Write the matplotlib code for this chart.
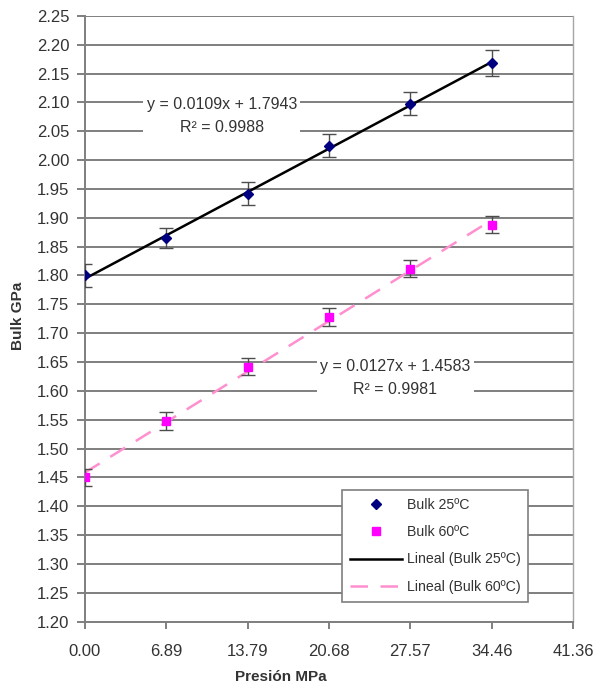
import matplotlib
matplotlib.use("Agg")
import matplotlib.pyplot as plt

plt.rcParams['font.family'] = ['Liberation Sans', 'DejaVu Sans']

presion = [0.00, 6.89, 13.79, 20.68, 27.57, 34.46]
bulk_25 = [1.800, 1.865, 1.942, 2.025, 2.098, 2.168]
bulk_60 = [1.450, 1.548, 1.642, 1.728, 1.812, 1.888]
err_25 = [0.02, 0.018, 0.02, 0.02, 0.02, 0.022]
err_60 = [0.015, 0.015, 0.015, 0.015, 0.015, 0.015]

fit_25 = (0.0109, 1.7943, 0.9988)
fit_60 = (0.0127, 1.4583, 0.9981)

x_ticks = [0.00, 6.89, 13.79, 20.68, 27.57, 34.46, 41.36]
y_ticks = [1.20 + 0.05 * i for i in range(22)]

fig = plt.figure(figsize=(5.97, 6.87), dpi=100)
ax = fig.add_axes([0.142, 0.095, 0.818, 0.882])

grid_c = '#7f7f7f'
txt_c = '#333333'
for yv in y_ticks:
    ax.axhline(yv, color=grid_c, lw=1.4, zorder=0)

# trend lines
xs = [presion[0], presion[-1]]
l1, = ax.plot(xs, [fit_25[0] * x + fit_25[1] for x in xs], color='black',
              lw=1.8, zorder=3, label='Lineal (Bulk 25ºC)')
l2, = ax.plot(xs, [fit_60[0] * x + fit_60[1] for x in xs], color='#ff8fcf',
              lw=1.8, dashes=(7, 5), zorder=3, label='Lineal (Bulk 60ºC)')

# error bars
ax.errorbar(presion, bulk_25, yerr=err_25, fmt='none', ecolor='#4d4d4d',
            elinewidth=1.0, capsize=5, capthick=1.0, zorder=4)
ax.errorbar(presion, bulk_60, yerr=err_60, fmt='none', ecolor='#4d4d4d',
            elinewidth=1.0, capsize=5, capthick=1.0, zorder=4)

h1, = ax.plot(presion, bulk_25, 'D', color='#000080', ms=5, ls='none',
              zorder=5, label='Bulk 25ºC')
h2, = ax.plot(presion, bulk_60, 's', color='#ff00ff', ms=6, ls='none',
              zorder=5, label='Bulk 60ºC')

ax.set_xlim(0, 41.36)
ax.set_ylim(1.20, 2.25)
ax.set_xticks(x_ticks)
ax.set_xticklabels([f'{v:.2f}' for v in x_ticks])
ax.set_yticks(y_ticks)
ax.set_yticklabels([f'{v:.2f}' for v in y_ticks])
ax.tick_params(axis='both', labelsize=12, color=grid_c, width=1.4,
               length=6, direction='out', labelcolor=txt_c)
ax.tick_params(axis='x', length=5, pad=11)
ax.tick_params(axis='y', pad=5)

ax.spines['top'].set_visible(False)
ax.spines['left'].set_color(grid_c)
ax.spines['left'].set_linewidth(1.4)
ax.spines['bottom'].set_color(grid_c)
ax.spines['bottom'].set_linewidth(1.4)
ax.spines['right'].set_color('#a6a6a6')
ax.spines['right'].set_linewidth(1.0)

ax.set_xlabel('Presión MPa', fontsize=11, fontweight='bold', color=txt_c)
ax.set_ylabel('Bulk GPa', fontsize=11, fontweight='bold', color=txt_c)
ax.xaxis.set_label_coords(0.402, -0.080)
ax.yaxis.set_label_coords(-0.123, 0.505)

box = dict(fc='white', ec='none', pad=2.5)
ax.text(11.6, 2.077,
        f'y = {fit_25[0]:.4f}x + {fit_25[1]:.4f}\nR² = {fit_25[2]:.4f}',
        ha='center', va='center', fontsize=11.5, color=txt_c, bbox=box,
        zorder=2, linespacing=1.65)
ax.text(26.3, 1.622,
        f'y = {fit_60[0]:.4f}x + {fit_60[1]:.4f}\nR² = {fit_60[2]:.4f}',
        ha='center', va='center', fontsize=11.5, color=txt_c, bbox=box,
        zorder=2, linespacing=1.65)

leg = ax.legend(handles=[h1, h2, l1, l2],
                loc='lower left', bbox_to_anchor=(0.527, 0.033),
                borderaxespad=0, fontsize=10.2, handlelength=3.7,
                fancybox=False, framealpha=1, edgecolor='#7f7f7f',
                labelspacing=0.95, handletextpad=0.3, borderpad=0.55)
leg.get_frame().set_linewidth(1.2)
for t in leg.get_texts():
    t.set_color(txt_c)

fig.savefig('out.png', dpi=100)
